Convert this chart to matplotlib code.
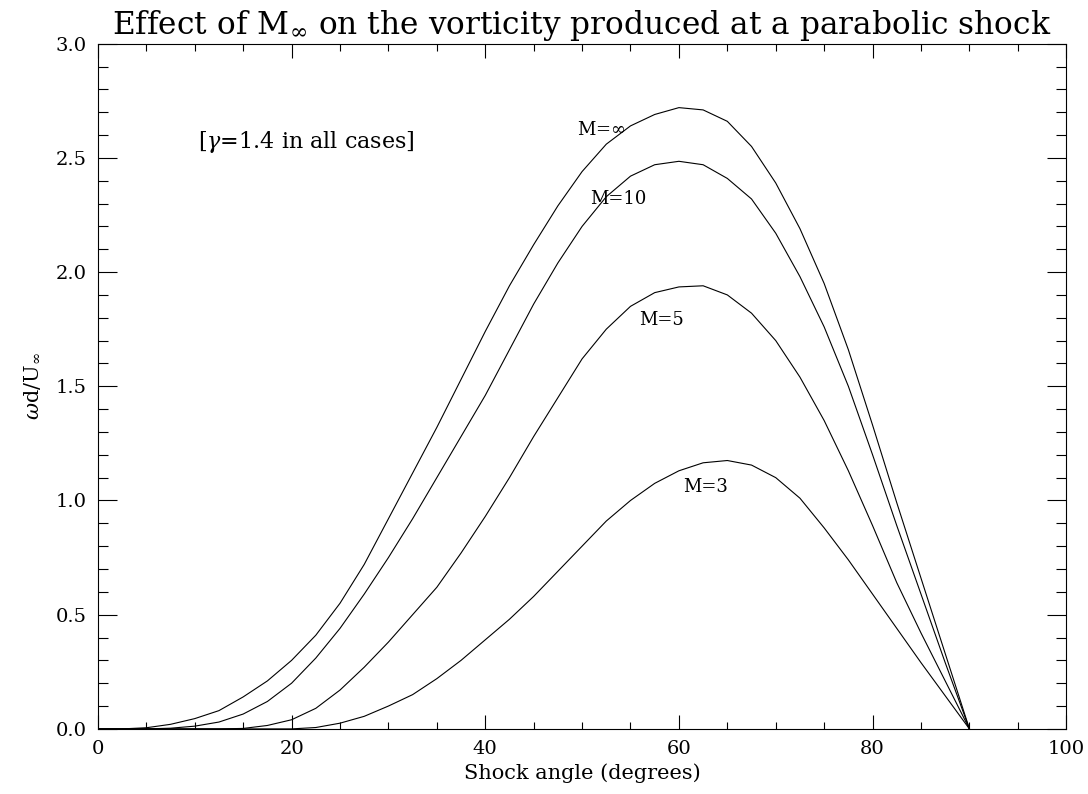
"""
Vorticity behind a parabolic shock for several Mach numbers
"""
import matplotlib
matplotlib.use("Agg")
from matplotlib import pyplot as plt
from matplotlib.ticker import MultipleLocator

# values (shock angle in degrees, omega d / U)
x_inf = [0, 2.5, 5, 7.5, 10, 12.5, 15, 17.5, 20, 22.5, 25, 27.5, 30, 32.5,
         35, 37.5, 40, 42.5, 45, 47.5, 50, 52.5, 55, 57.5, 60, 62.5, 65,
         67.5, 70, 72.5, 75, 77.5, 80, 82.5, 85, 87.5, 90]
y_inf = [0, 0.0, 0.005, 0.02, 0.045, 0.08, 0.14, 0.21, 0.30, 0.41, 0.55,
         0.72, 0.92, 1.12, 1.32, 1.53, 1.74, 1.94, 2.12, 2.29, 2.44, 2.56,
         2.64, 2.69, 2.72, 2.71, 2.66, 2.55, 2.39, 2.19, 1.95, 1.66, 1.33,
         0.99, 0.66, 0.33, 0]

x_m10 = [0, 5, 7.5, 10, 12.5, 15, 17.5, 20, 22.5, 25, 27.5, 30, 32.5, 35,
         37.5, 40, 42.5, 45, 47.5, 50, 52.5, 55, 57.5, 60, 62.5, 65, 67.5,
         70, 72.5, 75, 77.5, 80, 82.5, 85, 87.5, 90]
y_m10 = [0, 0, 0.003, 0.012, 0.03, 0.065, 0.12, 0.20, 0.31, 0.44, 0.59,
         0.75, 0.92, 1.10, 1.28, 1.46, 1.66, 1.86, 2.04, 2.20, 2.33, 2.42,
         2.47, 2.485, 2.47, 2.41, 2.32, 2.17, 1.98, 1.76, 1.50, 1.20, 0.89,
         0.59, 0.29, 0]

x_m5 = [0, 12.5, 15, 17.5, 20, 22.5, 25, 27.5, 30, 32.5, 35, 37.5, 40,
        42.5, 45, 47.5, 50, 52.5, 55, 57.5, 60, 62.5, 65, 67.5, 70, 72.5,
        75, 77.5, 80, 82.5, 85, 87.5, 90]
y_m5 = [0, 0, 0.002, 0.015, 0.04, 0.09, 0.17, 0.27, 0.38, 0.50, 0.62, 0.77,
        0.93, 1.10, 1.28, 1.45, 1.62, 1.75, 1.85, 1.91, 1.935, 1.94, 1.90,
        1.82, 1.70, 1.54, 1.35, 1.13, 0.89, 0.64, 0.42, 0.21, 0]

x_m3 = [0, 20, 22.5, 25, 27.5, 30, 32.5, 35, 37.5, 40, 42.5, 45, 47.5, 50,
        52.5, 55, 57.5, 60, 62.5, 65, 67.5, 70, 72.5, 75, 77.5, 80, 82.5,
        85, 87.5, 90]
y_m3 = [0, 0, 0.006, 0.025, 0.055, 0.10, 0.15, 0.22, 0.30, 0.39, 0.48, 0.58,
        0.69, 0.80, 0.91, 1.00, 1.075, 1.13, 1.165, 1.175, 1.155, 1.10, 1.01,
        0.88, 0.74, 0.59, 0.44, 0.29, 0.145, 0]

curves = [(x_inf, y_inf), (x_m10, y_m10), (x_m5, y_m5), (x_m3, y_m3)]
labels = [r"M=$\infty$", "M=10", "M=5", "M=3"]
label_pos = [(52.0, 2.62), (53.7, 2.32), (58.2, 1.79), (62.8, 1.06)]

plt.rcParams["font.family"] = ["DejaVu Serif"]
plt.rcParams["mathtext.fontset"] = "dejavuserif"

fig = plt.figure(figsize=(10.88, 7.94), dpi=100)
ax = fig.add_axes([0.090, 0.082, 0.890, 0.863])

for xs, ys in curves:
    ax.plot(xs, ys, color="black", linewidth=0.8)

for label, (lx, ly) in zip(labels, label_pos):
    ax.text(lx, ly, label, fontsize=13, ha="center", va="center")

ax.text(10.3, 2.57, r"[$\gamma$=1.4 in all cases]", fontsize=16,
        ha="left", va="center")

ax.set_xlim(0, 100)
ax.set_ylim(0, 3.0)
ax.xaxis.set_major_locator(MultipleLocator(20))
ax.xaxis.set_minor_locator(MultipleLocator(5))
ax.yaxis.set_major_locator(MultipleLocator(0.5))
ax.yaxis.set_minor_locator(MultipleLocator(0.1))
ax.yaxis.set_major_formatter(plt.FormatStrFormatter("%.1f"))

ax.tick_params(which="both", direction="in", top=True, right=True,
               labelsize=14, width=0.8, pad=8)
ax.tick_params(axis="x", which="major", length=10)
ax.tick_params(axis="x", which="minor", length=5)
ax.tick_params(axis="y", which="major", length=14)
ax.tick_params(axis="y", which="minor", length=7)
for spine in ax.spines.values():
    spine.set_linewidth(0.8)

ax.set_xlabel("Shock angle (degrees)", fontsize=15, labelpad=4)
ax.set_ylabel(r"$\omega$d/U$_\infty$", fontsize=15, labelpad=10)
ax.set_title(r"Effect of M$_\infty$ on the vorticity produced at a parabolic shock",
             fontsize=22.5, pad=7)

fig.savefig("out.png", dpi=100)
